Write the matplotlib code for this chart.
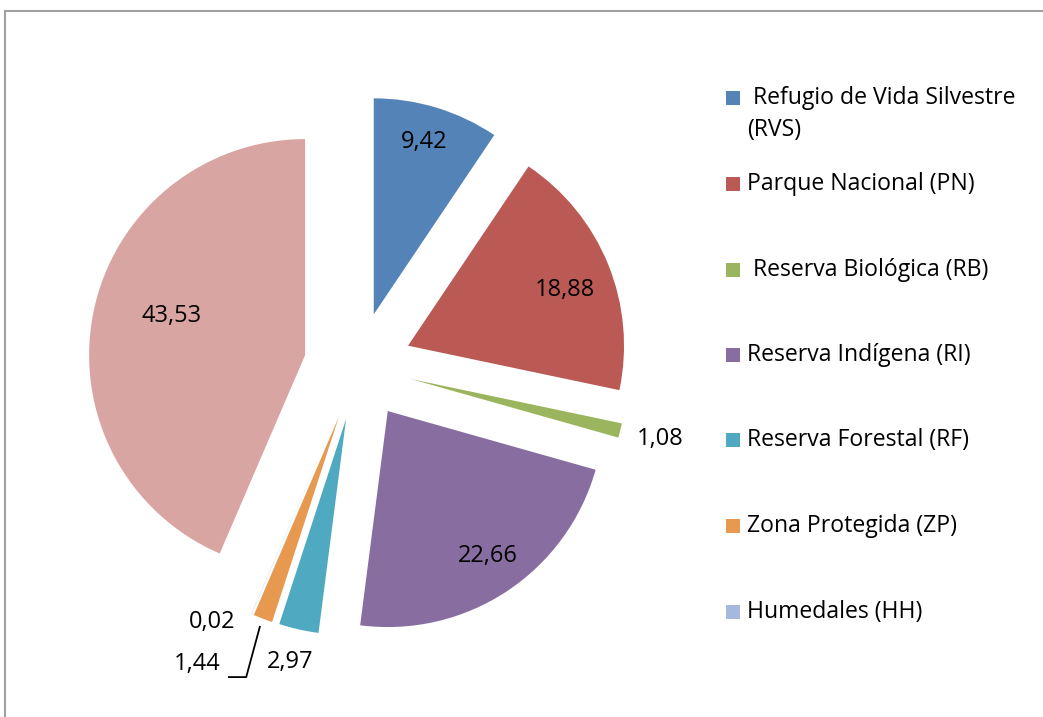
import math
import matplotlib
matplotlib.use("Agg")
import matplotlib.pyplot as plt
from matplotlib.patches import Rectangle
from matplotlib.lines import Line2D

categories = ["Refugio de Vida Silvestre\n(RVS)", "Parque Nacional (PN)", "Reserva Biológica (RB)",
              "Reserva Indígena (RI)", "Reserva Forestal (RF)", "Zona Protegida (ZP)",
              "Humedales (HH)", "Otros"]
legend_labels = [" Refugio de Vida Silvestre\n(RVS)", "Parque Nacional (PN)", " Reserva Biológica (RB)",
                 "Reserva Indígena (RI)", "Reserva Forestal (RF)", "Zona Protegida (ZP)",
                 "Humedales (HH)"]
values = [9.42, 18.88, 1.08, 22.66, 2.97, 1.44, 0.02, 43.53]
value_labels = ["9,42", "18,88", "1,08", "22,66", "2,97", "1,44", "0,02", "43,53"]

colors = ["#5483B7", "#BB5955", "#9BB55E", "#886EA0", "#4FAAC1", "#E6994F", "#A6B9DC", "#D9A5A2"]
# label placement: (radius factor from wedge apex, angle tweak in degrees)
label_pos = [(0.83, 0.5), (0.77, -2.5), (1.19, 0.3), (0.815, 1.2), (1.155, -0.3),
             (1.32, -9.1), (1.115, -7.9), (0.642, -4.7)]

W, H = 1043, 717
cx, cy, R = 358, 366, 216  # pixel centre / radius of the pie
fig = plt.figure(figsize=(W / 100, H / 100), dpi=100)
ax = fig.add_axes([0, 0, 1, 1])

font = ["Open Sans", "DejaVu Sans"]
fs_lab = 17
fs_leg = 16.6

wedges, _ = ax.pie(values, colors=colors, startangle=90, counterclock=False,
                   explode=[0.25] * len(values), radius=1.0, center=(0, 0),
                   wedgeprops=dict(linewidth=0), frame=True)
ax.set_xlim(-cx / R, (W - cx) / R)
ax.set_ylim(-(H - cy) / R, cy / R)
ax.set_aspect("auto")
ax.axis("off")

for w, lab, (rf, dt) in zip(wedges, value_labels, label_pos):
    ox, oy = w.center
    mid = 0.5 * (w.theta1 + w.theta2)
    a = math.radians(mid + dt)
    tx, ty = ox + rf * math.cos(a), oy + rf * math.sin(a)
    ax.text(tx, ty, lab, ha="center", va="center", fontsize=fs_lab, family=font, color="black")
    if lab == "1,44":
        am = math.radians(mid)
        p0 = (ox + 1.04 * math.cos(am), oy + 1.04 * math.sin(am))
        p2 = (tx + 0.145, ty - 0.06)
        ax.add_line(Line2D([p0[0], p2[0] + 0.08, p2[0]], [p0[1], p2[1], p2[1]],
                           color="black", linewidth=1.3))

# legend (manual, in figure pixel coordinates)
leg_y = [98, 184, 270, 355, 440, 526, 612]
line_step = 32
for lab, col, y in zip(legend_labels, colors, leg_y):
    fig.patches.append(Rectangle((726 / W, 1 - (y + 7) / H), 14 / W, 14 / H,
                                 transform=fig.transFigure, facecolor=col, edgecolor="none"))
    for i, part in enumerate(lab.split("\n")):
        fig.text(747 / W, 1 - (y + i * line_step) / H, part, ha="left", va="center",
                 fontsize=fs_leg, family=font)

# chart border
fig.add_artist(Line2D([4.5 / W, 4.5 / W], [0, 1 - 11 / H], transform=fig.transFigure,
                      color="#A0A0A0", linewidth=1.5))
fig.add_artist(Line2D([4.5 / W, 1], [1 - 11 / H, 1 - 11 / H], transform=fig.transFigure,
                      color="#A0A0A0", linewidth=1.5))

fig.savefig("out.png", dpi=100, facecolor="white")
